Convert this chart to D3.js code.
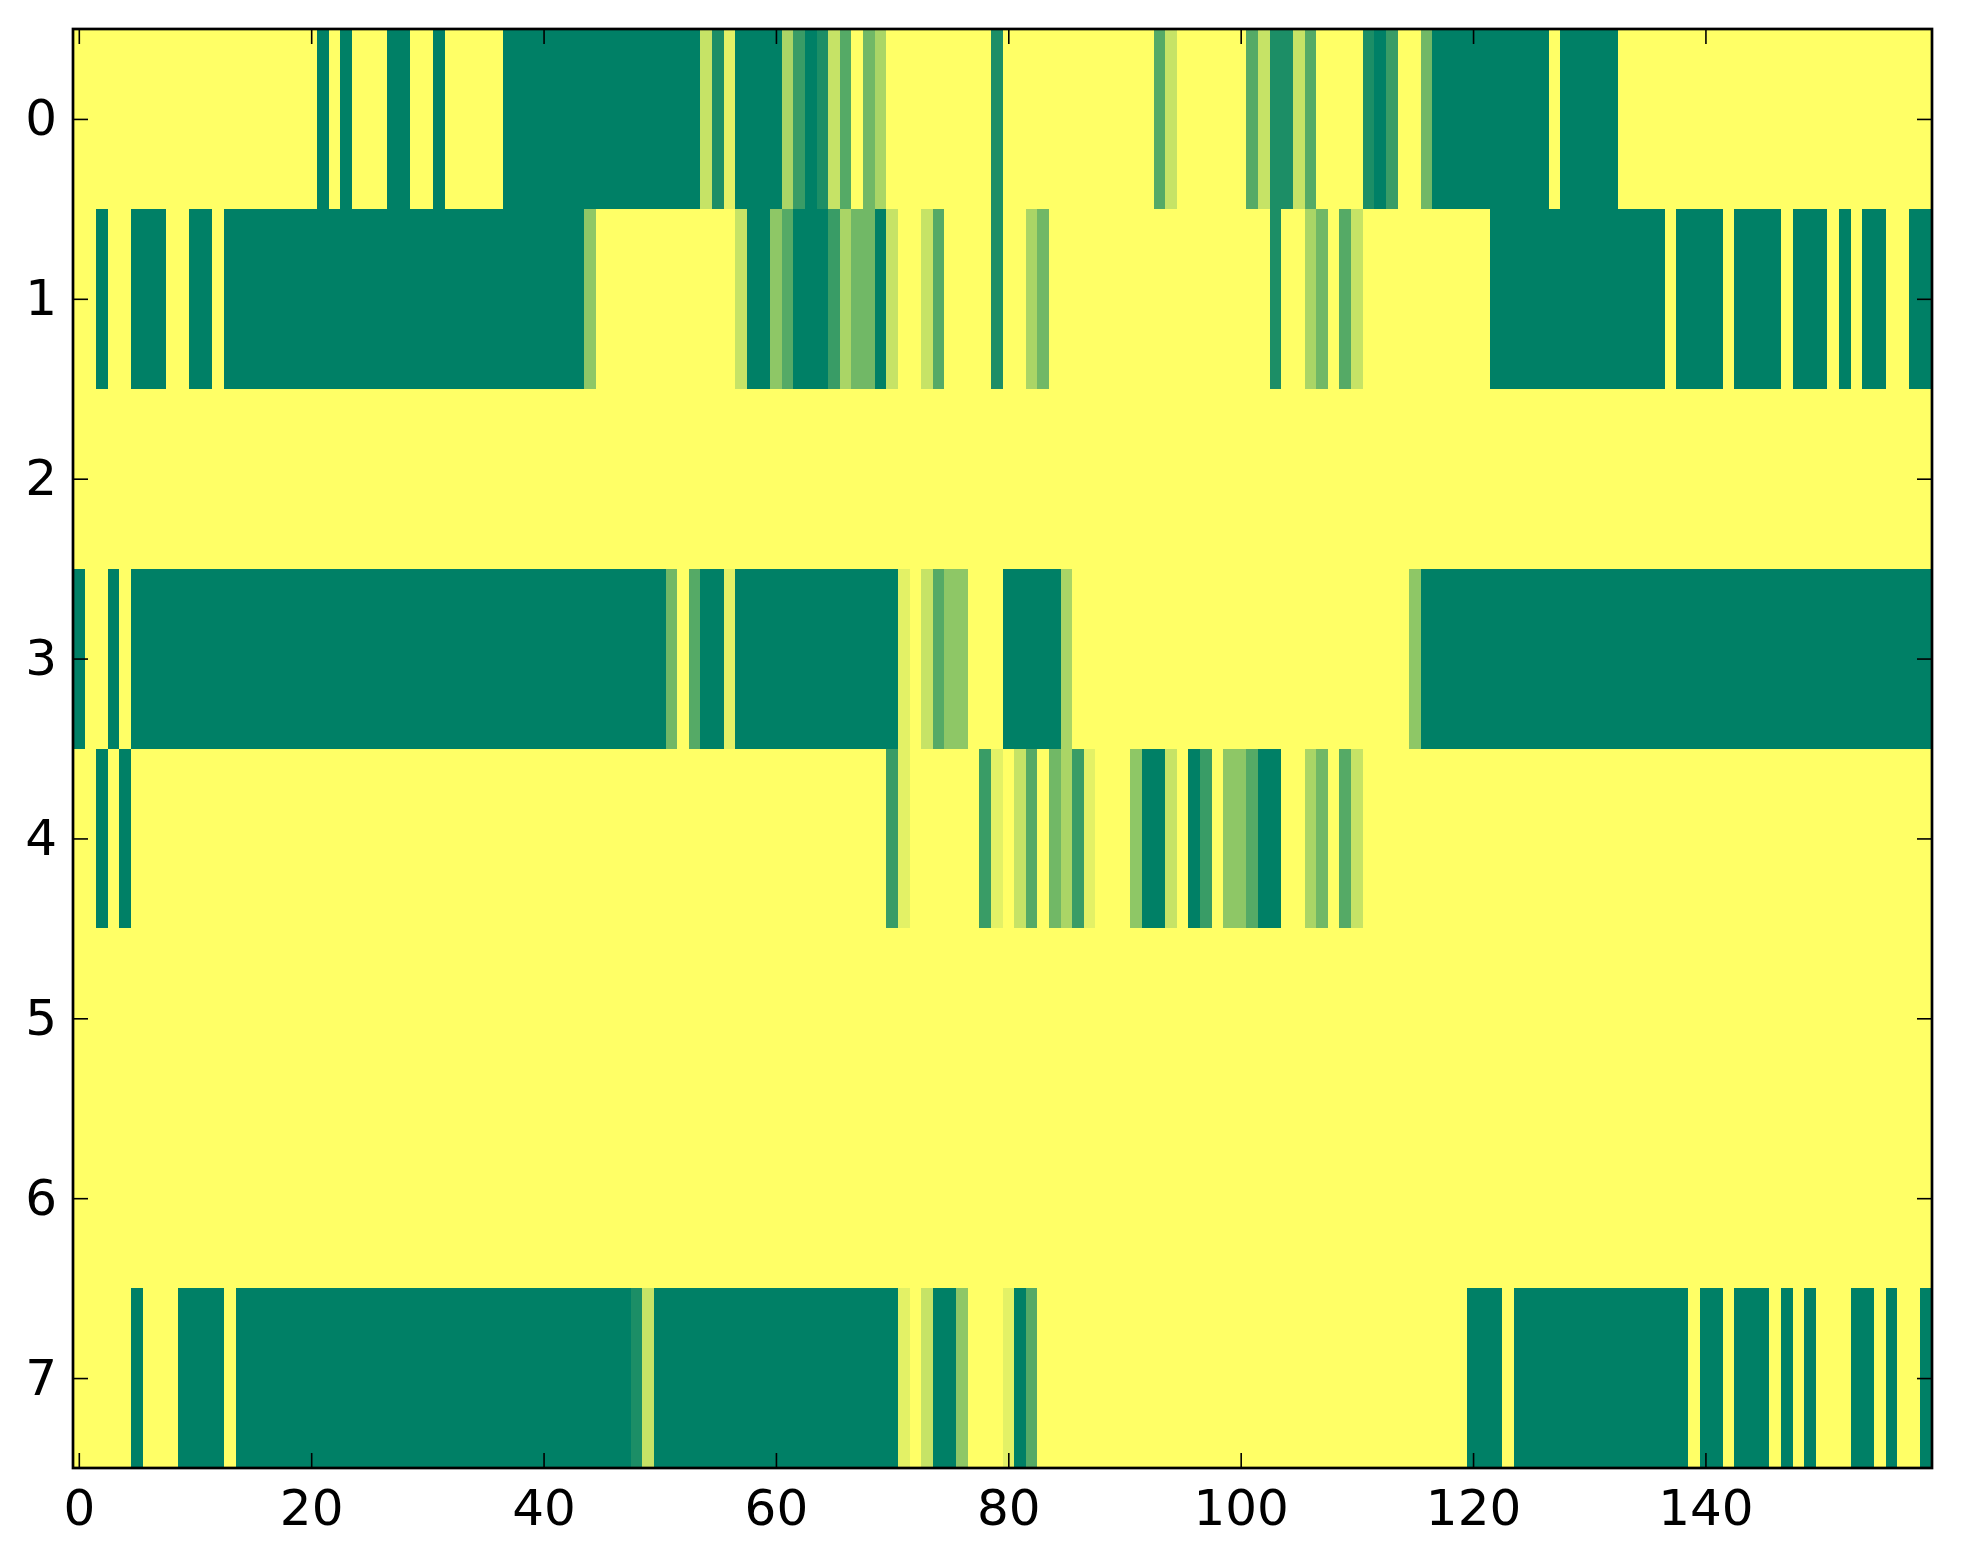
<!DOCTYPE html>
<html>

<head>
  <meta charset="utf-8">
  <title>Heatmap</title>
  <script src="https://cdn.jsdelivr.net/npm/d3@7"></script>
  <style>
    body { margin: 0; background: #fff; }
    text { font-family: "DejaVu Sans", sans-serif; }
  </style>
</head>

<body>

<script>
  // cell levels, 0 (green) .. 9 (yellow), 10 digits per group, 160 columns per row
  let row0 = "9999999999 9999999999 9090999009 9099999000 0000000000 0000718000 0620173946 9999999991 9999999999 9993799999 9371173999 9102994000 0000000900 0009999999 9999999999 9999999999";
  let row1 = "9909900099 0090000000 0000000000 0000000000 0000599999 9999999700 5300026440 7997399991 9964999999 9999999999 9991996493 7999999999 9900000000 0000000900 0090000900 0909009900";
  let row2 = "9999999999 9999999999 9999999999 9999999999 9999999999 9999999999 9999999999 9999999999 9999999999 9999999999 9999999999 9999999999 9999999999 9999999999 9999999999 9999999999";
  let row3 = "0990900000 0000000000 0000000000 0000000000 0000000000 0493008000 0000000000 0897355999 0000069999 9999999999 9999999999 9999950000 0000000000 0000000000 0000000000 0000000000";
  let row4 = "9909099999 9999999999 9999999999 9999999999 9999999999 9999999999 9999999999 2899999928 9739462899 9500790295 5300996493 7999999999 9999999999 9999999999 9999999999 9999999999";
  let row5 = "9999999999 9999999999 9999999999 9999999999 9999999999 9999999999 9999999999 9999999999 9999999999 9999999999 9999999999 9999999999 9999999999 9999999999 9999999999 9999999999";
  let row6 = "9999999999 9999999999 9999999999 9999999999 9999999999 9999999999 9999999999 9999999999 9999999999 9999999999 9999999999 9999999999 9999999999 9999999999 9999999999 9999999999";
  let row7 = "9999909990 0009000000 0000000000 0000000000 0000000017 0000000000 0000000000 0897005999 8039999999 9999999999 9999999999 9999999999 0009000000 0000000009 0090009090 9990090990";

  let rowTicks = [0, 1, 2, 3, 4, 5, 6, 7];
  let colTicks = [0, 20, 40, 60, 80, 100, 120, 140];
  let nCols = 160;
  let maxLevel = 9;

  let rows = [row0, row1, row2, row3, row4, row5, row6, row7].map(function (s) {
    let vals = s.replace(/ /g, '').split('').map(Number);
    if (vals.length !== nCols) throw new Error('bad row length ' + vals.length);
    return vals;
  });

  let cells = [];
  rows.forEach(function (r, j) {
    r.forEach(function (v, i) { cells.push({ row: j, col: i, v: v }); });
  });

  let width = 1963;
  let height = 1564;
  let plotLeft = 73, plotRight = 1932, plotTop = 29, plotBottom = 1468;

  let svg = d3.select('body').append('svg')
    .attr('width', width)
    .attr('height', height);

  let x = d3.scaleLinear().domain([-0.5, nCols - 0.5]).range([plotLeft, plotRight]);
  let y = d3.scaleLinear().domain([-0.5, rows.length - 0.5]).range([plotTop, plotBottom]);

  // matplotlib "summer" colormap
  let color = d3.scaleLinear().domain([0, maxLevel])
    .range(['rgb(0,128,102)', 'rgb(255,255,102)'])
    .interpolate(d3.interpolateRgb);

  svg.append('g')
    .attr('shape-rendering', 'crispEdges')
    .selectAll('rect').data(cells)
    .enter().append('rect')
    .attr('x', function (d) { return x(d.col - 0.5); })
    .attr('y', function (d) { return y(d.row - 0.5); })
    .attr('width', function (d) { return x(d.col + 0.5) - x(d.col - 0.5) + 0.4; })
    .attr('height', function (d) { return y(d.row + 0.5) - y(d.row - 0.5) + 0.4; })
    .attr('fill', function (d) { return color(d.v); });

  let tickLen = 15;

  let xAxis = d3.axisBottom(x).tickValues(colTicks).tickSizeInner(-tickLen).tickSizeOuter(0).tickPadding(21);
  let xTop = d3.axisTop(x).tickValues(colTicks).tickSizeInner(-tickLen).tickSizeOuter(0).tickFormat('');
  let yAxis = d3.axisLeft(y).tickValues(rowTicks).tickSizeInner(-tickLen).tickSizeOuter(0).tickPadding(16);
  let yRight = d3.axisRight(y).tickValues(rowTicks).tickSizeInner(-tickLen).tickSizeOuter(0).tickFormat('');

  function style(g) {
    g.select('.domain').remove();
    g.selectAll('line').attr('stroke', '#000').attr('stroke-width', 1.6);
    g.selectAll('text').attr('font-size', 50).attr('fill', '#000')
      .attr('font-family', '"DejaVu Sans", sans-serif');
  }

  svg.append('g').attr('transform', `translate(0, ${plotBottom})`).call(xAxis).call(style);
  svg.append('g').attr('transform', `translate(0, ${plotTop})`).call(xTop).call(style);
  svg.append('g').attr('transform', `translate(${plotLeft}, 0)`).call(yAxis).call(style);
  svg.append('g').attr('transform', `translate(${plotRight}, 0)`).call(yRight).call(style);

  svg.append('rect')
    .attr('x', plotLeft).attr('y', plotTop)
    .attr('width', plotRight - plotLeft).attr('height', plotBottom - plotTop)
    .attr('fill', 'none').attr('stroke', '#000').attr('stroke-width', 2.7);
</script>

</body>

</html>
